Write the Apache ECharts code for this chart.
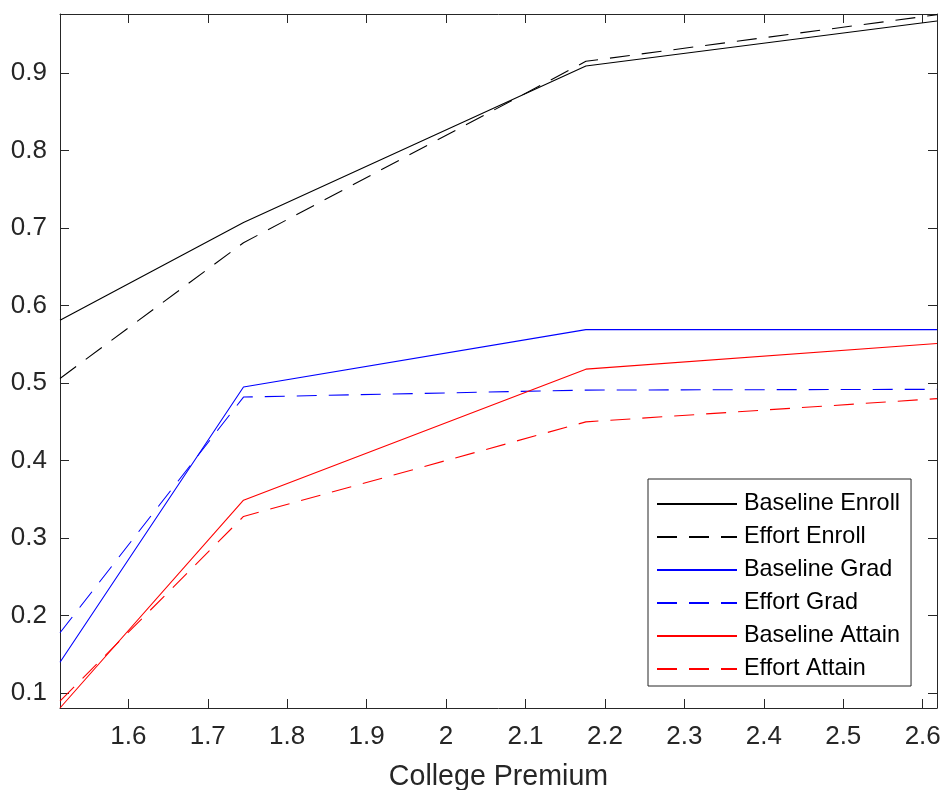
<!DOCTYPE html>
<html>
<head>
<meta charset="utf-8">
<script src="https://cdn.jsdelivr.net/npm/echarts@6/dist/echarts.min.js"></script>
<style>
  html, body { margin: 0; padding: 0; background: #fff; }
  #chart { width: 945px; height: 790px; }
</style>
</head>
<body>
<div id="chart"></div>
<script>
// College premium grid (x) and outcomes under each scenario
const premium = [1.514, 1.745, 2.176, 2.618];
const baselineEnroll = [0.581, 0.707, 0.909, 0.967];
const effortEnroll   = [0.506, 0.681, 0.915, 0.975];
const baselineGrad   = [0.140, 0.495, 0.569, 0.569];
const effortGrad     = [0.178, 0.482, 0.491, 0.492];
const baselineAttain = [0.081, 0.349, 0.518, 0.551];
const effortAttain   = [0.090, 0.328, 0.450, 0.480];

const xTicks = [1.6, 1.7, 1.8, 1.9, 2.0, 2.1, 2.2, 2.3, 2.4, 2.5, 2.6];
const yTicks = [0.1, 0.2, 0.3, 0.4, 0.5, 0.6, 0.7, 0.8, 0.9];
const xRange = [1.514, 2.618];
const yRange = [0.081, 0.976];

const FONT = '"Liberation Sans", Arial, Helvetica, sans-serif';
const AXIS_COLOR = '#262626';
const DASH = [20, 12];

function pairs(ys) { return premium.map((x, i) => [x, ys[i]]); }

function lineSeries(name, ys, color, dashed) {
  return {
    name: name,
    type: 'line',
    data: pairs(ys),
    symbol: 'none',
    showSymbol: false,
    animation: false,
    lineStyle: { color: color, width: 1.1, type: dashed ? DASH : 'solid' },
    itemStyle: { color: color },
    emphasis: { disabled: true }
  };
}

function xAxisDef(pos, showLabels) {
  return {
    type: 'value', position: pos, min: xRange[0], max: xRange[1],
    axisLine: { show: true, onZero: false, lineStyle: { color: AXIS_COLOR, width: 1 } },
    axisTick: { show: true, inside: true, length: 9, customValues: xTicks, lineStyle: { color: AXIS_COLOR } },
    axisLabel: {
      show: showLabels, customValues: xTicks, margin: 16,
      color: AXIS_COLOR, fontSize: 26, fontFamily: FONT,
      formatter: v => String(+v.toFixed(1))
    },
    splitLine: { show: false },
    name: showLabels ? 'College Premium' : '',
    nameLocation: 'middle', nameGap: 55,
    nameTextStyle: { color: AXIS_COLOR, fontSize: 28.6, fontFamily: FONT }
  };
}

function yAxisDef(pos, showLabels) {
  return {
    type: 'value', position: pos, min: yRange[0], max: yRange[1],
    axisLine: { show: true, onZero: false, lineStyle: { color: AXIS_COLOR, width: 1 } },
    axisTick: { show: true, inside: true, length: 9, customValues: yTicks, lineStyle: { color: AXIS_COLOR } },
    axisLabel: {
      show: showLabels, customValues: yTicks, margin: 13,
      color: AXIS_COLOR, fontSize: 26, fontFamily: FONT,
      formatter: v => String(+v.toFixed(1))
    },
    splitLine: { show: false }
  };
}

const chart = echarts.init(document.getElementById('chart'), null, { renderer: 'canvas' });
chart.setOption({
  backgroundColor: '#ffffff',
  animation: false,
  grid: { left: 60, right: 8, top: 14, bottom: 82, containLabel: false, outerBoundsMode: 'none' },
  xAxis: [xAxisDef('bottom', true), xAxisDef('top', false)],
  yAxis: [yAxisDef('left', true), yAxisDef('right', false)],
  legend: {
    orient: 'vertical',
    left: 648, top: 479,
    padding: [13, 11, 5, 8],
    itemWidth: 80, itemHeight: 14, itemGap: 9,
    backgroundColor: '#ffffff',
    borderColor: AXIS_COLOR, borderWidth: 1,
    itemStyle: { opacity: 0 },
    textStyle: { fontSize: 23.4, fontFamily: FONT, color: '#000', lineHeight: 24, padding: [0, 0, 0, 2] },
    selectedMode: false,
    data: ['Baseline Enroll', 'Effort Enroll', 'Baseline Grad', 'Effort Grad', 'Baseline Attain', 'Effort Attain']
  },
  series: [
    lineSeries('Baseline Enroll', baselineEnroll, '#000000', false),
    lineSeries('Effort Enroll', effortEnroll, '#000000', true),
    lineSeries('Baseline Grad', baselineGrad, '#0000ff', false),
    lineSeries('Effort Grad', effortGrad, '#0000ff', true),
    lineSeries('Baseline Attain', baselineAttain, '#ff0000', false),
    lineSeries('Effort Attain', effortAttain, '#ff0000', true)
  ]
});
</script>
</body>
</html>
